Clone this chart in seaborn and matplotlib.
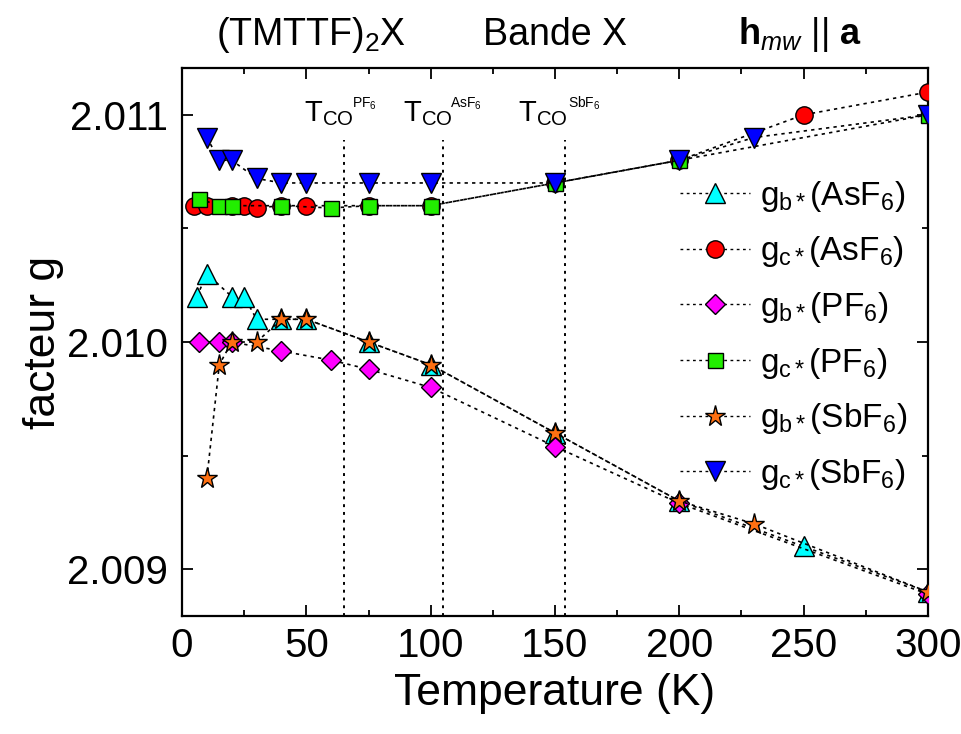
import matplotlib
matplotlib.use("Agg")
import matplotlib.pyplot as plt
import seaborn as sns
from matplotlib.lines import Line2D
from matplotlib.ticker import FormatStrFormatter, MultipleLocator

# ---------------- data ----------------
T_b_AsF6 = [6, 10, 20, 25, 30, 40, 50, 75, 100, 150, 200, 250, 300]
g_b_AsF6 = [2.0102, 2.0103, 2.0102, 2.0102, 2.0101, 2.0101, 2.0101, 2.0100, 2.0099, 2.0096, 2.0093, 2.0091, 2.0089]

T_c_AsF6 = [5, 10, 20, 25, 30, 40, 50, 75, 100, 150, 200, 250, 300]
g_c_AsF6 = [2.0106, 2.0106, 2.0106, 2.0106, 2.01059, 2.0106, 2.0106, 2.0106, 2.0106, 2.0107, 2.0108, 2.0110, 2.0111]

T_b_PF6 = [7, 15, 20, 40, 60, 75, 100, 150, 200, 300]
g_b_PF6 = [2.0100, 2.0100, 2.0100, 2.00996, 2.00992, 2.00988, 2.0098, 2.00954, 2.00929, 2.00889]

T_c_PF6 = [7, 15, 20, 40, 60, 75, 100, 150, 200, 300]
g_c_PF6 = [2.01063, 2.0106, 2.0106, 2.0106, 2.01059, 2.0106, 2.0106, 2.0107, 2.0108, 2.0110]

T_b_SbF6 = [10, 15, 20, 30, 40, 50, 75, 100, 150, 200, 230, 300]
g_b_SbF6 = [2.0094, 2.0099, 2.0100, 2.0100, 2.0101, 2.0101, 2.0100, 2.0099, 2.0096, 2.0093, 2.0092, 2.0089]

T_c_SbF6 = [10, 15, 20, 30, 40, 50, 75, 100, 150, 200, 230, 300]
g_c_SbF6 = [2.0109, 2.0108, 2.0108, 2.01072, 2.0107, 2.0107, 2.0107, 2.0107, 2.0107, 2.0108, 2.0109, 2.0110]

labels = [r"$\mathregular{g_{b*}(AsF_6)}$", r"$\mathregular{g_{c*}(AsF_6)}$",
          r"$\mathregular{g_{b*}(PF_6)}$", r"$\mathregular{g_{c*}(PF_6)}$",
          r"$\mathregular{g_{b*}(SbF_6)}$", r"$\mathregular{g_{c*}(SbF_6)}$"]

T_CO = [65, 105, 154]
T_CO_names = [r"PF$_6$", r"AsF$_6$", r"SbF$_6$"]

x_ticks = [0, 50, 100, 150, 200, 250, 300]
y_ticks = [2.009, 2.010, 2.011]

# ---------------- style ----------------
sns.set_theme(style="ticks")
plt.rcParams['font.family'] = ['Liberation Sans', 'DejaVu Sans']
plt.rcParams['mathtext.fontset'] = 'custom'
plt.rcParams['mathtext.rm'] = 'Liberation Sans'
plt.rcParams['mathtext.it'] = 'Liberation Sans:italic'
plt.rcParams['mathtext.bf'] = 'Liberation Sans:bold'
for k in ['text.color', 'axes.labelcolor', 'xtick.color', 'ytick.color', 'axes.edgecolor']:
    plt.rcParams[k] = 'black'

fig = plt.figure(figsize=(9.62, 7.34), dpi=100)
ax = fig.add_axes([182 / 962, 1 - 616 / 734, (928 - 182) / 962, (616 - 68) / 734])

series = [
    (T_b_AsF6, g_b_AsF6, '^', '#00FFFF', 14.5),
    (T_c_AsF6, g_c_AsF6, 'o', '#FF0000', 12.5),
    (T_b_PF6, g_b_PF6, 'D', '#FF00FF', 10.5),
    (T_c_PF6, g_c_PF6, 's', '#22EE00', 10.8),
    (T_b_SbF6, g_b_SbF6, '*', '#FF7012', 15.5),
    (T_c_SbF6, g_c_SbF6, 'v', '#0000FF', 14.5),
]

handles = []
for i, (T, g, m, c, ms) in enumerate(series):
    sns.lineplot(x=T, y=g, ax=ax, color='black', linestyle=(0, (2, 2.5)), linewidth=1.2,
                 marker=m, markersize=ms, markerfacecolor=c, markeredgecolor='black',
                 markeredgewidth=1.0, estimator=None, sort=False, zorder=3 + i, legend=False)
    handles.append(Line2D([0], [0], color='black', linestyle=(0, (2, 2.5)), linewidth=1.0,
                          marker=m, markersize=ms, markerfacecolor=c,
                          markeredgecolor='black', markeredgewidth=1.0))

ylo, yhi = 2.008794, 2.011206
ax.vlines(T_CO, ylo, 2.01089, colors='black', linestyles=(0, (1.5, 2.5)), linewidth=1.4, zorder=2)

ax.set_xlim(0, 300)
ax.set_ylim(ylo, yhi)
ax.set_xticks(x_ticks)
ax.set_yticks(y_ticks)
ax.xaxis.set_minor_locator(MultipleLocator(25))
ax.yaxis.set_minor_locator(MultipleLocator(0.0005))
ax.yaxis.set_major_formatter(FormatStrFormatter('%.3f'))
ax.tick_params(which='both', direction='in', top=True, right=True, width=1.3, color='black')
ax.tick_params(which='major', length=8, labelsize=29, pad=8)
ax.tick_params(which='minor', length=4.5)
ax.tick_params(axis='y', which='major', pad=10)
for s in ax.spines.values():
    s.set_linewidth(1.6)
    s.set_color('black')

ax.set_xlabel("Temperature (K)", fontsize=32, labelpad=6)
ax.set_ylabel("facteur g", fontsize=32, labelpad=2)

# T_CO annotations
T_pos = [49, 89, 135.3]
sup_pos = [68.4, 107.8, 155.2]
for xp, sp, nm in zip(T_pos, sup_pos, T_CO_names):
    ax.text(xp, 2.01097, r"$\mathregular{T_{CO}}$", fontsize=21, ha='left', va='baseline')
    ax.text(sp, 2.01103, nm, fontsize=10, ha='left', va='baseline')

# top titles
fig.text(311 / 962, 1 - 35 / 734, r"(TMTTF)$_2$X", fontsize=27, ha='center', va='center')
fig.text(555 / 962, 1 - 35 / 734, "Bande X", fontsize=27, ha='center', va='center')
fig.text(800 / 962, 1 - 35 / 734, r"$\mathbf{h}_{mw}$ || $\mathbf{a}$", fontsize=26,
         ha='center', va='center')

leg = ax.legend(handles, labels, loc='upper left', bbox_to_anchor=(663 / 962, 1 - 162 / 734),
                bbox_transform=fig.transFigure, frameon=False, fontsize=24,
                handlelength=2.1, handletextpad=0.3, labelspacing=0.62, borderpad=0)

fig.savefig("out.png", dpi=100)
